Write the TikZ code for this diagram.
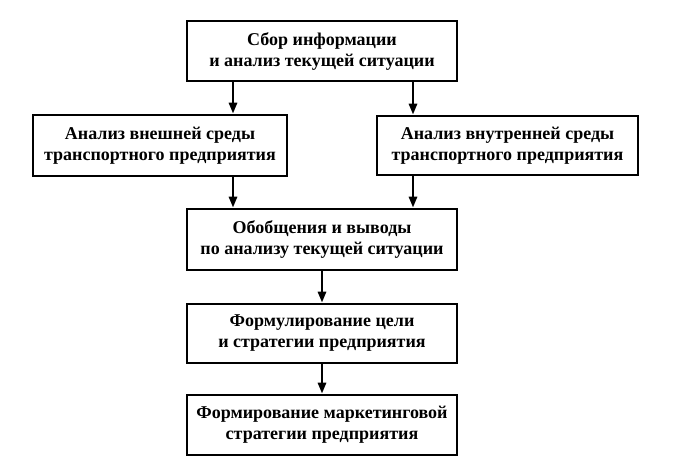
\documentclass[tikz,border=0pt]{standalone}
\usepackage{fontspec}
\setmainfont{Liberation Serif}
\usetikzlibrary{arrows.meta}
\begin{document}
\begin{tikzpicture}[x=1pt,y=-1pt,
  box/.style={draw,line width=2.6pt,align=center,inner sep=0pt,
    font=\fontsize{18}{21}\selectfont\bfseries},
  arr/.style={line width=2.8pt,-{Triangle[length=11pt,width=8pt]}}]
\useasboundingbox (0,0) rectangle (673,474);
\node[box,minimum width=270,minimum height=60] (b1) at (322,51)
  {Сбор информации\\и анализ текущей ситуации};
\node[box,minimum width=254,minimum height=61] (l) at (160,145.5)
  {Анализ внешней среды\\транспортного предприятия};
\node[box,minimum width=261,minimum height=59] (r) at (507.5,145.5)
  {Анализ внутренней среды\\транспортного предприятия};
\node[box,minimum width=270,minimum height=61] (b3) at (322,239.5)
  {Обобщения и выводы\\по анализу текущей ситуации};
\node[box,minimum width=270,minimum height=59] (b4) at (322,333.5)
  {Формулирование цели\\и стратегии предприятия};
\node[box,minimum width=270,minimum height=60] (b5) at (322,425)
  {Формирование маркетинговой\\стратегии предприятия};
\coordinate (xl) at (233,0);
\coordinate (xr) at (413,0);
\draw[arr] (b1.south -| xl) -- (l.north -| xl);
\draw[arr] (b1.south -| xr) -- (r.north -| xr);
\draw[arr] (l.south -| xl) -- (b3.north -| xl);
\draw[arr] (r.south -| xr) -- (b3.north -| xr);
\draw[arr] (b3.south) -- (b4.north);
\draw[arr] (b4.south) -- (b5.north);
\end{tikzpicture}
\end{document}
